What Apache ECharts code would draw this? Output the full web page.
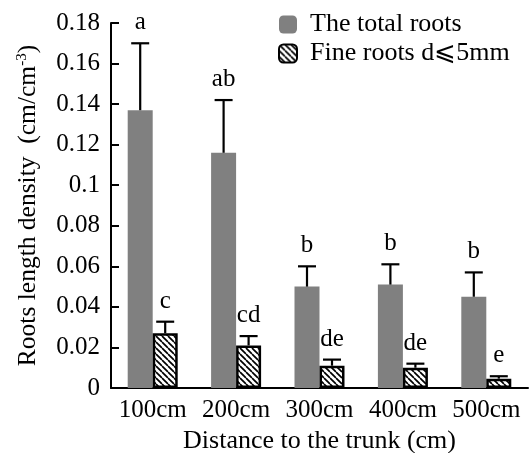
<!DOCTYPE html>
<html>
<head>
<meta charset="utf-8">
<script src="https://cdn.jsdelivr.net/npm/echarts@6/dist/echarts.min.js"></script>
<style>
  html, body { margin: 0; padding: 0; background: #fff; }
  #chart { width: 532px; height: 453px; }
</style>
</head>
<body>
<div id="chart"></div>
<script>
// Root length density by distance from the trunk
const categories = ['100cm', '200cm', '300cm', '400cm', '500cm'];
const totalRoots = [0.137, 0.116, 0.050, 0.051, 0.045];
const totalRootsErr = [0.033, 0.026, 0.010, 0.010, 0.012];
const totalLetters = ['a', 'ab', 'b', 'b', 'b'];
const fineRoots = [0.027, 0.021, 0.011, 0.010, 0.0046];
const fineRootsErr = [0.0057, 0.0046, 0.0030, 0.0020, 0.0012];
const fineLetters = ['c', 'cd', 'de', 'de', 'e'];
const yTicks = { min: 0, max: 0.18, interval: 0.02 };

const FONT = '"Liberation Serif", "Times New Roman", "DejaVu Serif", serif';
const BAR_W = 25;

// diagonal hatch fill for the fine-root bars
function hatchPattern() {
  const s = 6;
  const c = document.createElement('canvas');
  c.width = s; c.height = s;
  const ctx = c.getContext('2d');
  ctx.fillStyle = '#fff';
  ctx.fillRect(0, 0, s, s);
  ctx.strokeStyle = '#000';
  ctx.lineWidth = 1.7;
  for (let k = -1; k <= 1; k++) {
    ctx.beginPath();
    ctx.moveTo(k * s, 0);
    ctx.lineTo(k * s + s, s);
    ctx.stroke();
  }
  return { image: c, repeat: 'repeat' };
}

// error bar (upward only) plus significance letter
function errorSeries(name, means, errs, letters, side) {
  return {
    type: 'custom',
    name: name,
    silent: true,
    z: 10,
    data: means.map((m, i) => [i, m, errs[i]]),
    renderItem: function (params, api) {
      const i = api.value(0);
      const base = api.coord([i, api.value(1)]);
      const top = api.coord([i, api.value(1) + api.value(2)]);
      const x = base[0] + side * BAR_W / 2;
      const cap = 9;
      return {
        type: 'group',
        children: [
          { type: 'line', shape: { x1: x, y1: base[1], x2: x, y2: top[1] },
            style: { stroke: '#000', lineWidth: 2.2 } },
          { type: 'line', shape: { x1: x - cap, y1: top[1], x2: x + cap, y2: top[1] },
            style: { stroke: '#000', lineWidth: 2.2 } },
          { type: 'text', x: x, y: top[1] - 8,
            style: { text: letters[i], fill: '#000', font: '25px ' + FONT,
                     align: 'center', verticalAlign: 'bottom' } }
        ]
      };
    }
  };
}

const chart = echarts.init(document.getElementById('chart'));
chart.setOption({
  backgroundColor: '#fff',
  animation: false,
  grid: { left: 111, right: 4, top: 23, bottom: 65, containLabel: false, outerBoundsMode: 'none' },
  legend: {
    orient: 'vertical',
    left: 278,
    top: 10,
    padding: 0,
    itemWidth: 18,
    itemHeight: 18,
    itemGap: 0,
    data: ['The total roots', 'Fine roots d⩽5mm'],
    textStyle: { fontFamily: FONT, fontSize: 26, lineHeight: 29, color: '#000', padding: [0, 0, 0, 8] }
  },
  xAxis: {
    type: 'category',
    data: categories,
    name: 'Distance to the trunk (cm)',
    nameLocation: 'middle',
    nameGap: 34,
    nameTextStyle: { fontFamily: FONT, fontSize: 26, color: '#000' },
    axisLine: { lineStyle: { color: '#000', width: 2 } },
    axisTick: { inside: true, length: 8, lineStyle: { color: '#000', width: 2 } },
    axisLabel: { interval: 0, fontFamily: FONT, fontSize: 25, color: '#000', margin: 10 }
  },
  yAxis: {
    type: 'value',
    min: yTicks.min,
    max: yTicks.max,
    interval: yTicks.interval,
    name: 'Roots length density  (cm/cm{sup|-3})',
    nameLocation: 'middle',
    nameGap: 70,
    nameTextStyle: {
      fontFamily: FONT, fontSize: 25.5, color: '#000',
      rich: { sup: { fontFamily: FONT, fontSize: 15, color: '#000', verticalAlign: 'top', lineHeight: 25 } }
    },
    splitLine: { show: false },
    axisLine: { show: true, lineStyle: { color: '#000', width: 2 } },
    axisTick: { show: true, inside: true, length: 8, lineStyle: { color: '#000', width: 2 } },
    axisLabel: { fontFamily: FONT, fontSize: 25, color: '#000', margin: 11 }
  },
  series: [
    {
      name: 'The total roots',
      type: 'bar',
      data: totalRoots,
      barWidth: BAR_W,
      barGap: '0%',
      itemStyle: { color: '#808080' }
    },
    {
      name: 'Fine roots d⩽5mm',
      type: 'bar',
      data: fineRoots,
      barWidth: BAR_W,
      barGap: '0%',
      itemStyle: { color: hatchPattern(), borderColor: '#000', borderWidth: 2.5 }
    },
    errorSeries('totalErr', totalRoots, totalRootsErr, totalLetters, -1),
    errorSeries('fineErr', fineRoots, fineRootsErr, fineLetters, 1)
  ]
});
</script>
</body>
</html>
